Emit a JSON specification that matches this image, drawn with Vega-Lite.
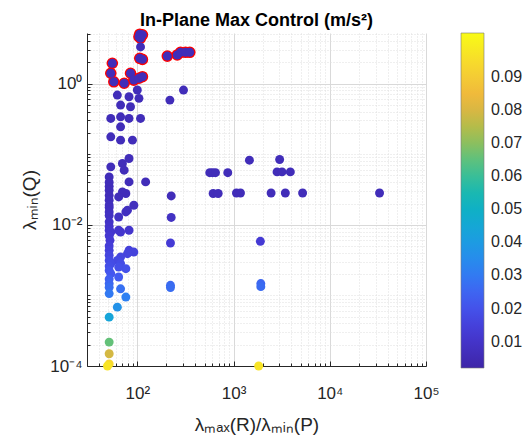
{
  "$schema": "https://vega.github.io/schema/vega-lite/v6.json",
  "width": 339,
  "height": 333,
  "autosize": {"type": "none"},
  "padding": {"left": 87, "top": 33, "right": 103, "bottom": 74},
  "background": "white",
  "config": {"view": {"stroke": null}, "font": "Liberation Sans"},
  "title": {"text": "In-Plane Max Control (m/s²)", "fontSize": 18, "fontWeight": "bold", "font": "Liberation Sans", "color": "#000000", "offset": -5, "anchor": "middle"},
  "data": {"values": [
    {"x":106,"y":5.0,"c":0.006,"f":1},
    {"x":113,"y":4.9,"c":0.006,"f":1},
    {"x":104,"y":4.6,"c":0.006,"f":1},
    {"x":108,"y":4.4,"c":0.006,"f":1},
    {"x":106,"y":2.28,"c":0.006,"f":1},
    {"x":113,"y":2.2,"c":0.006,"f":1},
    {"x":55,"y":1.94,"c":0.006,"f":1},
    {"x":53,"y":1.4,"c":0.006,"f":1},
    {"x":57,"y":1.06,"c":0.006,"f":1},
    {"x":73,"y":1.01,"c":0.006,"f":1},
    {"x":85,"y":1.4,"c":0.006,"f":1},
    {"x":92,"y":1.12,"c":0.006,"f":1},
    {"x":104,"y":1.19,"c":0.006,"f":1},
    {"x":113,"y":1.25,"c":0.006,"f":1},
    {"x":205,"y":2.45,"c":0.006,"f":1},
    {"x":260,"y":2.54,"c":0.006,"f":1},
    {"x":281,"y":2.77,"c":0.006,"f":1},
    {"x":317,"y":2.77,"c":0.006,"f":1},
    {"x":351,"y":2.77,"c":0.006,"f":1},
    {"x":108,"y":3.3,"c":0.006,"f":0},
    {"x":218,"y":0.583,"c":0.006,"f":0},
    {"x":302,"y":0.809,"c":0.006,"f":0},
    {"x":100,"y":0.81,"c":0.006,"f":0},
    {"x":62,"y":0.687,"c":0.006,"f":0},
    {"x":82,"y":0.65,"c":0.006,"f":0},
    {"x":104,"y":0.617,"c":0.006,"f":0},
    {"x":67,"y":0.496,"c":0.006,"f":0},
    {"x":85,"y":0.469,"c":0.006,"f":0},
    {"x":53,"y":0.321,"c":0.006,"f":0},
    {"x":67,"y":0.338,"c":0.006,"f":0},
    {"x":82,"y":0.321,"c":0.006,"f":0},
    {"x":108,"y":0.321,"c":0.006,"f":0},
    {"x":67,"y":0.244,"c":0.006,"f":0},
    {"x":53,"y":0.176,"c":0.006,"f":0},
    {"x":67,"y":0.158,"c":0.006,"f":0},
    {"x":89,"y":0.158,"c":0.006,"f":0},
    {"x":53,"y":0.0661,"c":0.006,"f":0},
    {"x":70,"y":0.0738,"c":0.006,"f":0},
    {"x":82,"y":0.0869,"c":0.006,"f":0},
    {"x":73,"y":0.0593,"c":0.006,"f":0},
    {"x":122,"y":0.0405,"c":0.006,"f":0},
    {"x":51,"y":0.0476,"c":0.006,"f":0},
    {"x":82,"y":0.0405,"c":0.006,"f":0},
    {"x":51,"y":0.04,"c":0.006,"f":0},
    {"x":51,"y":0.035,"c":0.006,"f":0},
    {"x":51,"y":0.0308,"c":0.006,"f":0},
    {"x":76,"y":0.0277,"c":0.006,"f":0},
    {"x":70,"y":0.0292,"c":0.006,"f":0},
    {"x":51,"y":0.026,"c":0.006,"f":0},
    {"x":51,"y":0.0223,"c":0.0065,"f":0},
    {"x":64,"y":0.0248,"c":0.0062,"f":0},
    {"x":51,"y":0.019,"c":0.007,"f":0},
    {"x":92,"y":0.0189,"c":0.007,"f":0},
    {"x":51,"y":0.0175,"c":0.0073,"f":0},
    {"x":79,"y":0.0161,"c":0.0076,"f":0},
    {"x":76,"y":0.0152,"c":0.0079,"f":0},
    {"x":51,"y":0.0152,"c":0.0079,"f":0},
    {"x":51,"y":0.0135,"c":0.0083,"f":0},
    {"x":64,"y":0.0129,"c":0.0085,"f":0},
    {"x":51,"y":0.011,"c":0.0092,"f":0},
    {"x":51,"y":0.0095,"c":0.01,"f":0},
    {"x":51,"y":0.00836,"c":0.0106,"f":0},
    {"x":53,"y":0.0079,"c":0.0109,"f":0},
    {"x":67,"y":0.0079,"c":0.0109,"f":0},
    {"x":64,"y":0.00836,"c":0.0106,"f":0},
    {"x":82,"y":0.00836,"c":0.0106,"f":0},
    {"x":51,"y":0.007,"c":0.0116,"f":0},
    {"x":52,"y":0.00603,"c":0.0125,"f":0},
    {"x":51,"y":0.005,"c":0.0137,"f":0},
    {"x":82,"y":0.00435,"c":0.0147,"f":0},
    {"x":51,"y":0.00435,"c":0.0147,"f":0},
    {"x":67,"y":0.00349,"c":0.0164,"f":0},
    {"x":92,"y":0.00411,"c":0.0151,"f":0},
    {"x":79,"y":0.0039,"c":0.0155,"f":0},
    {"x":51,"y":0.0037,"c":0.016,"f":0},
    {"x":51,"y":0.00313,"c":0.0173,"f":0},
    {"x":62,"y":0.00313,"c":0.0173,"f":0},
    {"x":53,"y":0.00282,"c":0.0183,"f":0},
    {"x":67,"y":0.00282,"c":0.0183,"f":0},
    {"x":51,"y":0.0026,"c":0.019,"f":0},
    {"x":76,"y":0.00239,"c":0.0198,"f":0},
    {"x":51,"y":0.00226,"c":0.0204,"f":0},
    {"x":64,"y":0.00252,"c":0.0193,"f":0},
    {"x":53,"y":0.00203,"c":0.0215,"f":0},
    {"x":64,"y":0.00182,"c":0.0227,"f":0},
    {"x":51,"y":0.0017,"c":0.0235,"f":0},
    {"x":51,"y":0.00147,"c":0.0253,"f":0},
    {"x":51,"y":0.0013,"c":0.027,"f":0},
    {"x":51,"y":0.00106,"c":0.0298,"f":0},
    {"x":67,"y":0.00124,"c":0.0276,"f":0},
    {"x":76,"y":0.000946,"c":0.0315,"f":0},
    {"x":62,"y":0.000682,"c":0.0371,"f":0},
    {"x":51,"y":0.000492,"c":0.0437,"f":0},
    {"x":51,"y":0.000218,"c":0.0657,"f":0},
    {"x":51,"y":0.000149,"c":0.0795,"f":0},
    {"x":51,"y":0.000107,"c":0.0938,"f":0},
    {"x":49,"y":0.0001,"c":0.097,"f":0},
    {"x":225,"y":0.0256,"c":0.006,"f":0},
    {"x":225,"y":0.0127,"c":0.0086,"f":0},
    {"x":221,"y":0.00552,"c":0.013,"f":0},
    {"x":221,"y":0.00139,"c":0.026,"f":0},
    {"x":221,"y":0.00129,"c":0.027,"f":0},
    {"x":1462,"y":0.0822,"c":0.006,"f":0},
    {"x":3013,"y":0.0841,"c":0.006,"f":0},
    {"x":566,"y":0.0547,"c":0.006,"f":0},
    {"x":605,"y":0.0547,"c":0.006,"f":0},
    {"x":649,"y":0.0547,"c":0.006,"f":0},
    {"x":871,"y":0.0547,"c":0.006,"f":0},
    {"x":2832,"y":0.0561,"c":0.006,"f":0},
    {"x":3190,"y":0.0561,"c":0.006,"f":0},
    {"x":3890,"y":0.0561,"c":0.006,"f":0},
    {"x":614,"y":0.0277,"c":0.006,"f":0},
    {"x":692,"y":0.0277,"c":0.006,"f":0},
    {"x":1072,"y":0.0282,"c":0.006,"f":0},
    {"x":1180,"y":0.0282,"c":0.006,"f":0},
    {"x":2455,"y":0.0282,"c":0.006,"f":0},
    {"x":3452,"y":0.0282,"c":0.006,"f":0},
    {"x":5220,"y":0.0282,"c":0.006,"f":0},
    {"x":32900,"y":0.0282,"c":0.006,"f":0},
    {"x":1900,"y":0.00583,"c":0.0127,"f":0},
    {"x":1920,"y":0.00147,"c":0.0253,"f":0},
    {"x":1920,"y":0.00133,"c":0.0266,"f":0},
    {"x":1825,"y":0.0001,"c":0.097,"f":0}
  ]},
  "encoding": {
    "x": {"field": "x", "type": "quantitative",
      "scale": {"type": "log", "domain": [30, 100000], "nice": false},
      "axis": {
        "title": "λₘₐₓ(R)/λₘᵢₙ(P)",
        "titleFontSize": 19, "titleFontWeight": "normal", "titleColor": "#262626", "titlePadding": 12,
        "values": [40,50,60,70,80,90,100,200,300,400,500,600,700,800,900,1000,2000,3000,4000,5000,6000,7000,8000,9000,10000,20000,30000,40000,50000,60000,70000,80000,90000,100000],
        "labelExpr": "datum.value==100?'10²':datum.value==1000?'10³':datum.value==10000?'10⁴':datum.value==100000?'10⁵':''",
        "labelFontSize": 17, "labelColor": "#262626", "labelPadding": 24, "labelFlush": false, "labelOverlap": false,
        "domainColor": "#262626",
        "tickColor": "#262626",
        "tickSize": {"condition": {"test": "datum.value==100||datum.value==1000||datum.value==10000||datum.value==100000", "value": -5}, "value": -3},
        "grid": true,
        "gridColor": {"condition": {"test": "datum.value==100||datum.value==1000||datum.value==10000||datum.value==100000", "value": "#d9d9d9"}, "value": "#dedede"},
        "gridDash": {"condition": {"test": "datum.value==100||datum.value==1000||datum.value==10000||datum.value==100000", "value": []}, "value": [1, 2]}
      }
    },
    "y": {"field": "y", "type": "quantitative",
      "scale": {"type": "log", "domain": [0.0001, 5.2], "nice": false},
      "axis": {
        "title": "λₘᵢₙ(Q)",
        "titleFontSize": 19, "titleFontWeight": "normal", "titleColor": "#262626", "titlePadding": 10,
        "values": [0.0001,0.0002,0.0003,0.0004,0.0005,0.0006,0.0007,0.0008,0.0009,0.001,0.002,0.003,0.004,0.005,0.006,0.007,0.008,0.009,0.01,0.02,0.03,0.04,0.05,0.06,0.07,0.08,0.09,0.1,0.2,0.3,0.4,0.5,0.6,0.7,0.8,0.9,1,2,3,4,5],
        "labelExpr": "datum.value==0.0001?'10⁻⁴':datum.value==0.01?'10⁻²':datum.value==1?'10⁰':''",
        "labelFontSize": 17, "labelColor": "#262626", "labelPadding": 10, "labelFlush": false, "labelOverlap": false,
        "domainColor": "#262626",
        "tickColor": "#262626",
        "tickSize": {"condition": {"test": "datum.value==0.0001||datum.value==0.01||datum.value==1", "value": -5}, "value": -3},
        "grid": true,
        "gridColor": {"condition": {"test": "datum.value==0.0001||datum.value==0.01||datum.value==1", "value": "#d9d9d9"}, "value": "#dedede"},
        "gridDash": {"condition": {"test": "datum.value==0.0001||datum.value==0.01||datum.value==1", "value": []}, "value": [1, 2]}
      }
    }
  },
  "layer": [
    {
      "transform": [{"filter": "datum.f == 1"}],
      "mark": {"type": "circle", "size": 135, "color": "#ff0000", "opacity": 1}
    },
    {
      "mark": {"type": "circle", "size": 80, "opacity": 1},
      "encoding": {
        "color": {"field": "c", "type": "quantitative",
          "scale": {
            "domain": [0.002, 0.01214, 0.02228, 0.03242, 0.04256, 0.0527, 0.06284, 0.07298, 0.08312, 0.09326, 0.1034],
            "range": ["#3e26a8", "#4538d2", "#4459f1", "#2c84f2", "#18a3dc", "#0cb5bd", "#4bc28a", "#a5be4d", "#eeb43e", "#f7d630", "#f9fb15"],
            "interpolate": "rgb"
          },
          "legend": {
            "type": "gradient", "orient": "right", "offset": 35, "padding": 0,
            "title": null,
            "gradientLength": 335, "gradientThickness": 23,
            "gradientStrokeColor": "#7a7a7a", "gradientStrokeWidth": 0.6,
            "values": [0.01, 0.02, 0.03, 0.04, 0.05, 0.06, 0.07, 0.08, 0.09],
            "format": ".2f",
            "labelFontSize": 16, "labelColor": "#262626", "labelOffset": 7, "labelOverlap": false
          }
        }
      }
    }
  ]
}
